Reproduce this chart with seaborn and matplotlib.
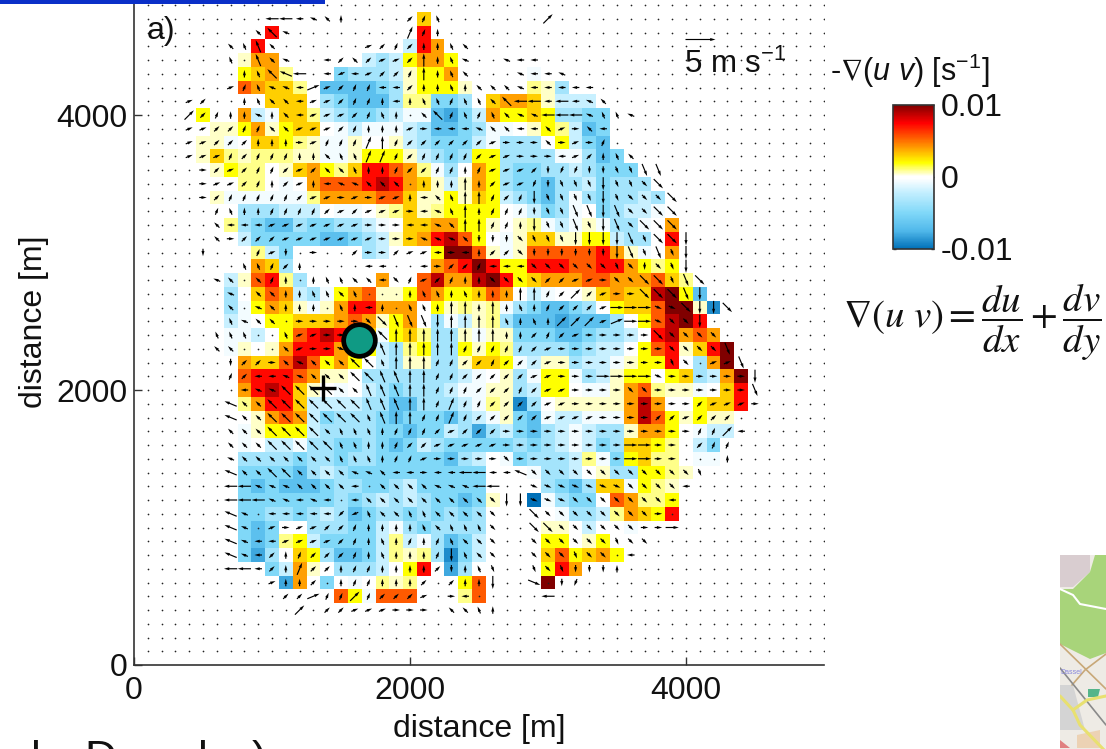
import numpy as np
import pandas as pd
import matplotlib
matplotlib.use('Agg')
import matplotlib.pyplot as plt
import seaborn as sns
from matplotlib.colors import LinearSegmentedColormap
from matplotlib.patches import Rectangle

sns.set_style('white')
plt.rcParams['font.family'] = ['Liberation Sans', 'DejaVu Sans']
plt.rcParams['mathtext.fontset'] = 'custom'
plt.rcParams['mathtext.rm'] = 'Liberation Sans'
plt.rcParams['mathtext.it'] = 'Liberation Sans:italic'
plt.rcParams['mathtext.fallback'] = 'stix'

# divergence per grid point, top row is y = 4800 m, first column x = 100 m
HEAT_ROWS = [
    "",
    "....................g",
    ".........r..........r",
    "........r..........2ro",
    ".......aoo......232yooy",
    ".......ygob...43332ayyo.....1",
    ".......foggb.555543ayyya....ba3",
    ".........ggg.345553bb443.googa222",
    "....y..o21ggb234432115642oyygy3344",
    ".....aayoaygg.1211123554311.ayb254",
    "....aa1.ggyba11a..a2344421333.y245",
    "....agbabbbaa11ayyya2343yy333311354",
    ".....aybb.agoybgrrfob13.oy3443323444",
    ".......bb.1.offfrdroga2aoy34453324333",
    ".....a111111booooffgaayagy234531343323",
    ".......333222.11.abgabyyyy.12431.43221",
    "......b34553443321.ggooyya.ab121a1331.o",
    ".......24444455432agordfy.1aggaayy233.r",
    "........b24.....32...ykkfa1afffffroa1.o",
    "........og3..........ofrkryyrrrffrroyby",
    "......2afrb3.....o..fdoodkrygoooffooofgb",
    "......3.gfo231yofaayfoyygfo.21..agoggdky5",
    "......31yoga1aorrooo.yabab1345543.yggfkka7",
    "......21.yygggofoayo.312ab355565553.yfdkr",
    "......112.yfrdrrg1ygb33a1aa444554332.rdofo",
    "......1a.aorrrooy23by33yayb33334322.yfragrk",
    ".......oggfdfyoy.23aa33aggy12aa3221ayyr.3ok",
    ".......frrrfoaa.333333321.a31yy132ayy.yg32ok",
    ".......ordrga.1.234333211aa32yy.11aofbaa1.gr",
    ".......borrg2222335533321ba73.aaaaaodo..yggr",
    "........aofo24333454445321a45122111odfyayaa",
    ".......1ayyy23333445442363245321233aooy.122",
    ".......1.22133443454234444434321243ggyb.24",
    ".......333343343344444532.143332b14ygbb.11",
    ".......444453234444444444...1332.a33yyba",
    ".......454555433443244444....3453gg1yba",
    ".......444444434323234454a..81344.fobby",
    ".......443343235433434343.....1332bogyr",
    ".......454..3334421343333....aa.2..1",
    ".......454by244442b213542....yy.ay",
    ".......463.gy35542bab3742....gfygoy",
    ".........42oa.3332.yr.63.....yro",
    "..........6o.4.1.bab...yf....k",
    "..............fy1fff...bf",
    "",
    "",
    "",
    "",
]
HEAT_CODES = {'a': 0.0005, 'b': 0.001, 'y': 0.002, 'g': 0.003, 'o': 0.004,
              'f': 0.0055, 'r': 0.0073, 'd': 0.0088, 'k': 0.01,
              '1': -0.0006, '2': -0.002, '3': -0.0035, '4': -0.005,
              '5': -0.0068, '6': -0.008, '7': -0.009, '8': -0.01}

# wind per grid point: a..p = compass sector counter clockwise from east,
# lower case slow, upper case fast, dot = calm
WIND_ROWS = [
    "",
    ".........IIihge....cdf.......C",
    "........gGh........Dde",
    "......gfFg......bcdceefg",
    "......f.Fgh..icgcbbcEefh..hii",
    ".......efGHI.ijibccdEefg...hiih",
    "......bdfhhiBbcddiiceefeggghiiiii",
    "...bc..efggibbcddeieffdffgGIIiIihg",
    "...Ccdeehegibbbcdfe.gGdfdfghhIIIhffh",
    "...bbccddggbbbcdeeebaiiihggiigbagi",
    "...bbccceeeabdddDEdccccccbaaagabad",
    "...bbbdcdddeegffDDdcddddcbbaaaibcefg",
    "....acbcddcbcggfeedccddedbbbcmllmmnnNN",
    "....abbcdecbeihhggg.eeeEecbblmnnnMnnoO",
    "....acdddddcbbababbeigfEEdcdMnnnnMnoooO",
    ".....dfeeddddcbcbbbaihfEedddmnnNNMNooOO",
    ".....giiibbbbbbbaaaiihgEEddeMnnNnMNoOOO",
    ".....gacccbbbbbbbaaahhhgmmmonnnMMMMNnOOM",
    "....m...dbm.a..caacbbiaieccommmmmmMNnNnM",
    ".......ffdce....ii..iaccdiiioooooonomonM",
    ".....hg.gde.effggiodbcdeeooooccbbaooOOnNO",
    "......h.ggeeffgf...effefeeeEEdcCcbaaOOONM",
    "......g.hgeee.feie.ffeEEeEefedcccbAAAppOMMO",
    "......fhgg.aaaaaoONNNMEEEEfefeCCCbBAApooM",
    ".....fff..fbbaaa.GEEEEEEEEeecdcbaaaaaOoooo",
    ".....gg...gbaapogFEEEEEdddddcbaaaaaaaaooooN",
    "......mccaghgggGGfEEEddccdcccbaaaaaaaano.bbN",
    "......dciihhgggGGFFEEddcccccbbaaaAAAApaaaaaaM",
    ".......ihhGGGGggFFFEEdddcccdcbbaaaaooaaaaaaaN",
    "......HggGGGGGGGFFFEEdDddccccbbaaaaaaaaacbbba",
    "......HggGGGGGGGfFEEddDdcccccbbbbaaaaccbccc",
    "......gggGGGGgfffedddcbcccaaaaaaaaaaaaaaddCi",
    "......gggGGGGGffeedccbbbbbaaaaaaaaaAAaa.cdd",
    "......hgggggggfffeddbaaaaaoaaaaaaaaAAaa...e",
    "......HggGGgggghhgiiaiiIIiiHoooooooooooon",
    "......IIhhhggggi.gggghhhII..pppppppooooi",
    "......IIIhhihi.igggggggggoMMpppoooooooi",
    "......Hh.iiiiikjfggffggggo..Oooooooooa",
    "......Hh.babbccdeeeefgfffo..OOooooooaaA",
    "......Hhiibbbbcdefededfggo..oooooonoo",
    "......HhicedcccdefeeedMfgo..ooonoo.i",
    "......IIiceDcceddeeeecmefn..nonmmme",
    ".........beec.eddeeec.ceeM..P.ml",
    "..........ccBddCdcccb.ai.....I",
    "...........C.ccbbbaaa.ggfe",
    "",
    "",
    "",
]
WIND_SECTORS = 'abcdefghijklmnop'
SLOW_SPEED = 1.25
FAST_SPEED = 2.2
KEY_SPEED = 5.0

N_COLS = 50
X_TICKS = [0, 2000, 4000]
Y_TICKS = [0, 2000, 4000]
TOWER_XY = (1630, 2364)
RADAR_XY = (1370, 2015)


def to_cell(metres):
    return metres / 100.0 - 0.5


heat = np.array([[HEAT_CODES.get(c, np.nan) for c in row.ljust(N_COLS, '.')]
                 for row in HEAT_ROWS[::-1]])
grid_m = np.arange(1, N_COLS + 1) * 100
df = pd.DataFrame(heat, index=grid_m[:heat.shape[0]], columns=grid_m)

colours = [(0.0, '#0070b8'), (0.125, '#50b8ea'), (0.25, '#80d8f8'), (0.4, '#c8f0ff'),
           (0.49, '#ffffff'), (0.505, '#ffffff'), (0.6, '#ffff00'), (0.735, '#ff8000'),
           (0.875, '#ff0000'), (1.0, '#800000')]
cmap = LinearSegmentedColormap.from_list('front', colours)

W, H = 1106.0, 749.0
fig = plt.figure(figsize=(W / 100, H / 100), dpi=100)
ax = fig.add_axes([134 / W, (H - 665) / H, 690 / W, 687.5 / H])
cax = fig.add_axes([893 / W, (H - 249) / H, 41 / W, 144 / H])

sns.heatmap(df, ax=ax, cbar_ax=cax, cmap=cmap, vmin=-0.01, vmax=0.01,
            xticklabels=False, yticklabels=False,
            cbar_kws={'ticks': [-0.01, 0, 0.01]})
ax.set_xlim(to_cell(0), to_cell(5000))
ax.set_ylim(to_cell(0), to_cell(5000))
ax.set_aspect('auto')

# wind vectors and calm grid points
xs, ys, us, vs, calm_x, calm_y = [], [], [], [], [], []
for t, row in enumerate(WIND_ROWS):
    y_m = 4800 - 100 * t
    for col, code in enumerate(row.ljust(N_COLS, '.')):
        x_m = 100 * (col + 1)
        if code == '.':
            calm_x.append(to_cell(x_m))
            calm_y.append(to_cell(y_m))
            continue
        speed = FAST_SPEED if code.isupper() else SLOW_SPEED
        angle = np.deg2rad(22.5 * WIND_SECTORS.index(code.lower()))
        xs.append(to_cell(x_m))
        ys.append(to_cell(y_m))
        us.append(speed * np.cos(angle))
        vs.append(speed * np.sin(angle))

arrow_style = dict(angles='xy', scale_units='xy', scale=2.3, color='black', width=0.0017,
                   headwidth=2.6, headlength=4.5, headaxislength=4.5, zorder=3)
ax.scatter(calm_x, calm_y, s=1.5, color='#222222', linewidths=0, zorder=3)
ax.quiver(xs, ys, us, vs, pivot='mid', **arrow_style)
ax.quiver([to_cell(3990)], [to_cell(4550)], [KEY_SPEED], [0], pivot='tail', **arrow_style)

ax.scatter(*[to_cell(v) for v in TOWER_XY], s=520, color='#0f9a84', edgecolors='black',
           linewidths=3.4, zorder=5)
ax.scatter(*[to_cell(v) for v in RADAR_XY], s=360, marker='+', color='black',
           linewidths=2.4, zorder=5)

for side in ['top', 'right']:
    ax.spines[side].set_visible(False)
for side in ['left', 'bottom']:
    ax.spines[side].set_visible(True)
    ax.spines[side].set_color('#333333')
    ax.spines[side].set_linewidth(1.2)

ax.set_xticks([to_cell(v) for v in X_TICKS])
ax.set_xticklabels([str(v) for v in X_TICKS])
ax.set_yticks([to_cell(v) for v in Y_TICKS])
ax.set_yticklabels([str(v) for v in Y_TICKS], rotation=0)
ax.tick_params(axis='x', bottom=True, direction='in', length=6, width=1, color='#333333',
               labelsize=23, pad=8, labelcolor='#111111')
ax.tick_params(axis='y', left=True, direction='in', length=6, width=1, color='#333333',
               labelsize=23, pad=5, labelcolor='#111111')
ax.set_xlabel('distance [m]', fontsize=23, labelpad=6, color='#111111')
ax.set_ylabel('distance [m]', fontsize=23, labelpad=5, color='#111111')

cbar = ax.collections[0].colorbar
cbar.ax.set_yticklabels(['-0.01', '0', '0.01'])
cbar.ax.tick_params(direction='in', length=2.5, width=1, color='#333333', labelsize=23, pad=5,
                    labelcolor='#111111', right=True, left=True)
cbar.outline.set_visible(True)
cbar.outline.set_linewidth(1.2)
cbar.outline.set_edgecolor('#333333')

fig.text(147 / W, 1 - 31 / H, 'a)', fontsize=23, va='center', color='#111111')
fig.text(684 / W, 1 - 64 / H, r'5 m s$^{-1}$', fontsize=22.5, va='center', color='#111111')
fig.text(830 / W, 1 - 71 / H, r'-$\nabla$($\mathit{u\ v}$) [s$^{-1}$]', fontsize=22,
         va='center', color='#111111')
fig.text(843 / W, 1 - 322 / H, r'$\nabla(u\ v) = \dfrac{du}{dx} + \dfrac{dv}{dy}$', fontsize=28,
         va='center', math_fontfamily='stix', color='#111111')

# leftovers of the slide around the plot
fig.patches.append(Rectangle((0, 1 - 4 / H), 325 / W, 4 / H, transform=fig.transFigure,
                             facecolor='#0a2fc8', edgecolor='none'))
for glyph, px in zip(['l', 'D', 'l', ')'], [31, 84, 198, 252]):
    fig.text(px / W, 1 - 772 / H, glyph, fontsize=32, va='baseline', color='#111111', clip_on=False)

# scrap of street map at the lower right
MAP_GREEN = [(35, 0), (46, 0), (46, 98), (30, 104), (0, 89), (0, 34), (13, 34), (30, 17)]
MAP_LILAC = [(0, 0), (30, 0), (30, 17), (13, 32), (0, 32)]
MAP_PALE = [(0, 130), (13, 130), (25, 175), (0, 175)]
MAP_TAN = [(17, 180), (40, 175), (40, 193), (17, 193)]
MAP_RED = [(0, 185), (10, 193), (0, 193)]
MAP_TEAL = [(28, 134), (40, 134), (38, 142), (28, 142)]
mapax = fig.add_axes([1060 / W, 0, 46 / W, 194 / H])
mapax.set_xlim(0, 46)
mapax.set_ylim(194, 0)
mapax.axis('off')
mapax.add_patch(Rectangle((0, 0), 46, 194, facecolor='#eeebe5', edgecolor='none'))
for poly, col in [(MAP_LILAC, '#d9cdd0'), (MAP_GREEN, '#a8d47a'), (MAP_PALE, '#d4d4d4'),
                  (MAP_TAN, '#ecd2b4'), (MAP_RED, '#e08080'), (MAP_TEAL, '#55b58a')]:
    mapax.fill(*zip(*poly), color=col, linewidth=0)
for line, col, lw in [([(0, 34), (13, 40), (20, 49), (46, 54)], 'white', 1.5),
                      ([(0, 89), (46, 134)], '#c8a878', 1.2),
                      ([(46, 99), (25, 115), (12, 130)], '#c8a878', 1.2),
                      ([(0, 113), (46, 170)], '#8a8a8a', 1.2),
                      ([(0, 141), (13, 155), (20, 170), (46, 197)], '#e8e070', 2.2),
                      ([(13, 155), (27, 145), (46, 141)], '#e8e070', 2.2)]:
    mapax.plot(*zip(*line), color=col, linewidth=lw)
mapax.text(0, 119, 'Dassel', fontsize=5, color='#8888dd')

fig.savefig('out.png', dpi=100)
